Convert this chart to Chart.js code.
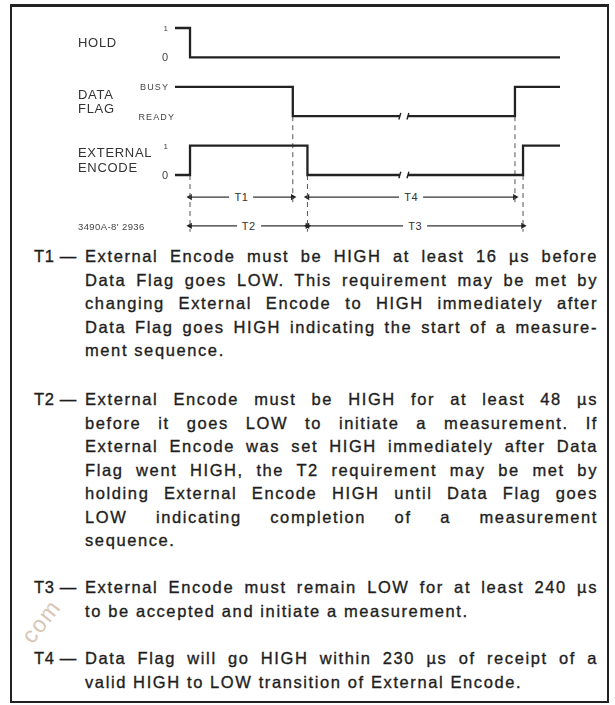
<!DOCTYPE html>
<html>
<head>
<meta charset="utf-8">
<script src="https://cdn.jsdelivr.net/npm/chart.js@4.4.1/dist/chart.umd.min.js"></script>
<style>
  html, body { margin: 0; padding: 0; background: #fff; }
  body { width: 615px; height: 705px; position: relative; overflow: hidden;
         font-family: "Liberation Sans", Arial, Helvetica, sans-serif; color: #1e1e1e; }
  #frame { position: absolute; left: 10px; top: 4px; width: 599px; height: 699px;
           box-sizing: border-box; border: 2px solid #222; border-top-width: 3px; }
  #chartBox { position: absolute; left: 0; top: 0; width: 615px; height: 240px; }
  .sig { position: absolute; left: 78px; font-size: 13px; line-height: 14.5px; letter-spacing: 0.7px;
         color: #333; white-space: pre; transform: translateY(-50%); }
  .lvl { position: absolute; color: #444; white-space: nowrap; transform: translate(-100%, -50%); }
  .lvl.small { font-size: 9px; letter-spacing: 1.1px; }
  .lvl.digit { font-size: 11px; }
  .lvl.one { font-size: 8px; }
  .tl { position: absolute; font-size: 11px; color: #333; background: #fff; padding: 0 5px;
        transform: translate(-50%, -50%); line-height: 12px; letter-spacing: 0.5px; }
  .fig { position: absolute; left: 78px; font-size: 9.5px; color: #444; letter-spacing: 0.4px;
         transform: translateY(-50%); white-space: nowrap; }
  .para { position: absolute; left: 34px; width: 564px; font-size: 16.5px; line-height: 23.5px;
          letter-spacing: 1.6px; -webkit-text-stroke: 0.35px #1e1e1e; }
  .tag { position: absolute; left: 0; top: 0; white-space: pre; letter-spacing: 0.6px; }
  .body { margin-left: 51px; width: 513px; }
  .ln { text-align: justify; text-align-last: justify; }
  .ln.last { text-align-last: left; }
  #wm { position: absolute; left: 16px; top: 632px; font-size: 23px; color: #d6c6b4;
        transform: rotate(-52deg); transform-origin: left top; letter-spacing: 1.5px; }
</style>
</head>
<body>
<div id="frame"></div>
<div id="chartBox"><canvas id="c" width="615" height="240"></canvas></div>

<div class="para" style="top:245px">
  <div class="tag">T1 —</div>
  <div class="body">
    <div class="ln">External Encode must be HIGH at least 16 µs before</div>
    <div class="ln">Data Flag goes LOW. This requirement may be met by</div>
    <div class="ln">changing External Encode to HIGH immediately after</div>
    <div class="ln">Data Flag goes HIGH indicating the start of a measure-</div>
    <div class="ln last">ment sequence.</div>
  </div>
</div>
<div class="para" style="top:388px">
  <div class="tag">T2 —</div>
  <div class="body">
    <div class="ln">External Encode must be HIGH for at least 48 µs</div>
    <div class="ln">before it goes LOW to initiate a measurement. If</div>
    <div class="ln">External Encode was set HIGH immediately after Data</div>
    <div class="ln">Flag went HIGH, the T2 requirement may be met by</div>
    <div class="ln">holding External Encode HIGH until Data Flag goes</div>
    <div class="ln">LOW indicating completion of a measurement</div>
    <div class="ln last">sequence.</div>
  </div>
</div>
<div class="para" style="top:576px">
  <div class="tag">T3 —</div>
  <div class="body">
    <div class="ln">External Encode must remain LOW for at least 240 µs</div>
    <div class="ln last">to be accepted and initiate a measurement.</div>
  </div>
</div>
<div class="para" style="top:647px">
  <div class="tag">T4 —</div>
  <div class="body">
    <div class="ln">Data Flag will go HIGH within 230 µs of receipt of a</div>
    <div class="ln last">valid HIGH to LOW transition of External Encode.</div>
  </div>
</div>
<div id="wm">com</div>

<script>
// ---- data (arbitrary time units, diagram not to scale) ----
const signalNames   = ['HOLD', 'DATA\nFLAG', 'EXTERNAL\nENCODE'];
const highLabels    = ['1', 'BUSY', '1'];
const lowLabels     = ['0', 'READY', '0'];
const holdTimes     = [0, 3.9, 100];
const holdLevels    = [1, 0, 0];
const flagTimes     = [0, 30.6, 88.3, 100];
const flagLevels    = [1, 0, 1, 1];
const encodeTimes   = [0, 3.9, 34.4, 90.4, 100];
const encodeLevels  = [0, 1, 0, 1, 1];
const breakTimes    = [58.4, 60.5];
const intervalNames = ['T1', 'T4', 'T2', 'T3'];
const intervalStart = [3.9, 34.4, 3.9, 34.4];
const intervalEnd   = [30.6, 88.3, 34.4, 90.4];
const intervalRow   = [0, 0, 1, 1];
const figureNumber  = "3490A-8' 2936";

// ---- layout of lanes in y-units ----
const laneBase = [9, 7, 5];         // low level of each signal
const rowY = [4.25, 3.27];          // interval arrow rows

const INK = '#222';

function wave(times, levels, base, withBreak) {
  const pts = [];
  for (let i = 0; i < times.length; i++) {
    if (withBreak && i > 0 && times[i - 1] < breakTimes[0] && times[i] > breakTimes[1]) {
      const lv = levels[i - 1];
      pts.push({x: breakTimes[0], y: base + lv});
      pts.push({x: (breakTimes[0] + breakTimes[1]) / 2, y: null});
      pts.push({x: breakTimes[1], y: base + lv});
    }
    pts.push({x: times[i], y: base + levels[i]});
  }
  return pts;
}
function levelAt(times, levels, t) {
  let v = levels[0];
  for (let i = 0; i < times.length; i++) if (times[i] <= t) v = levels[i];
  return v;
}

const datasets = [];
const waves = [[holdTimes, holdLevels, false], [flagTimes, flagLevels, true], [encodeTimes, encodeLevels, true]];
waves.forEach(([t, l, br], k) => {
  datasets.push({
    data: wave(t, l, laneBase[k], br), stepped: 'before', borderColor: INK, borderWidth: 2.3,
    pointRadius: 0, spanGaps: false, clip: false, borderJoinStyle: 'miter'
  });
  if (br) {
    breakTimes.forEach(bt => {
      const y = laneBase[k] + levelAt(t, l, bt);
      datasets.push({
        data: [{x: bt - 0.25, y: y - 0.11}, {x: bt + 0.25, y: y + 0.11}],
        borderColor: INK, borderWidth: 1.4, pointRadius: 0, clip: false
      });
    });
  }
});

// dashed edge markers: from the signal lane that owns the edge down past the lowest arrow row using it
const edges = {};
intervalStart.concat(intervalEnd).forEach((t, i) => {
  const row = intervalRow[i % intervalRow.length];
  const owner = flagTimes.includes(t) ? 1 : 2;
  if (!edges[t] || edges[t].row < row) edges[t] = {row, owner};
});
Object.keys(edges).forEach(key => {
  const t = parseFloat(key), e = edges[key];
  datasets.push({
    data: [{x: t, y: laneBase[e.owner]}, {x: t, y: rowY[e.row] - 0.2}],
    borderColor: '#555', borderWidth: 1, borderDash: [5, 4], pointRadius: 0, clip: false
  });
});

// interval arrows
intervalNames.forEach((n, i) => {
  datasets.push({
    data: [{x: intervalStart[i], y: rowY[intervalRow[i]]}, {x: intervalEnd[i], y: rowY[intervalRow[i]]}],
    borderColor: '#333', borderWidth: 1.3, clip: false,
    pointStyle: 'triangle', pointRadius: 3.6, pointBorderWidth: 0,
    pointBackgroundColor: '#222', pointBorderColor: '#222',
    pointRotation: ctx => ctx.dataIndex === 0 ? -90 : 90
  });
});

const chart = new Chart(document.getElementById('c'), {
  type: 'line',
  data: {datasets},
  options: {
    responsive: false, animation: false, devicePixelRatio: 1,
    layout: {padding: {left: 175, right: 55, top: 28, bottom: 6.2}},
    plugins: {legend: {display: false}, tooltip: {enabled: false}, title: {display: false}},
    scales: {
      x: {type: 'linear', min: 0, max: 100, display: false},
      y: {type: 'linear', min: 3, max: 10, display: false}
    },
    events: []
  }
});

// ---- text labels positioned from the chart scales ----
const xs = chart.scales.x, ys = chart.scales.y;
function addDiv(cls, text, left, top) {
  const d = document.createElement('div');
  d.className = cls; d.textContent = text;
  if (left !== null) d.style.left = left + 'px';
  d.style.top = top + 'px';
  document.body.appendChild(d);
  return d;
}
const x0 = xs.getPixelForValue(0);
signalNames.forEach((n, k) => {
  addDiv('sig', n, null, ys.getPixelForValue(laneBase[k] + 0.5));
  const hiCls = highLabels[k] === '1' ? 'lvl one' : 'lvl small';
  const loCls = lowLabels[k] === '0' ? 'lvl digit' : 'lvl small';
  addDiv(hiCls, highLabels[k], x0 - (highLabels[k] === '1' ? 7 : 6), ys.getPixelForValue(laneBase[k] + 1));
  addDiv(loCls, lowLabels[k], x0 - (lowLabels[k] === '0' ? 7 : 0), ys.getPixelForValue(laneBase[k]) + (lowLabels[k] === 'READY' ? 1 : 0));
});
intervalNames.forEach((n, i) => {
  const mid = (intervalStart[i] + intervalEnd[i]) / 2;
  addDiv('tl', n, xs.getPixelForValue(mid), ys.getPixelForValue(rowY[intervalRow[i]]));
});
addDiv('fig', figureNumber, null, ys.getPixelForValue(rowY[1]));
</script>
</body>
</html>
